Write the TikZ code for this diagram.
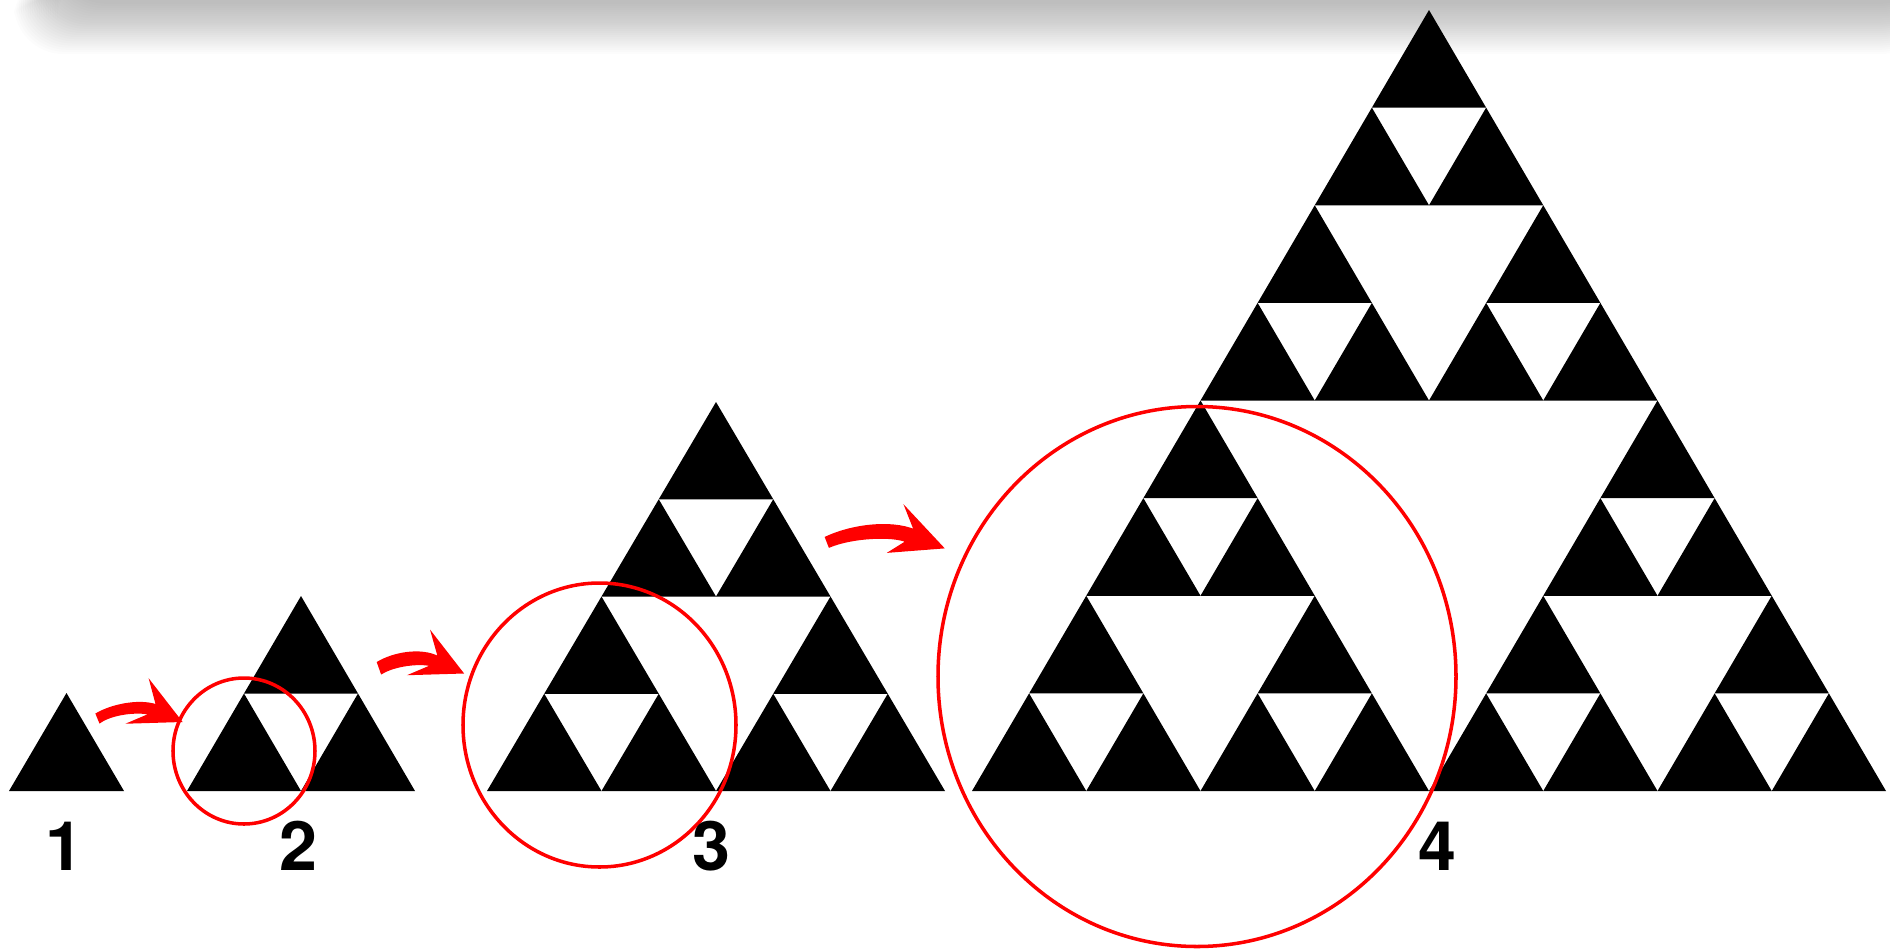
\documentclass[tikz,border=0pt]{standalone}
\usepackage{fontspec}
\setmainfont{Liberation Sans}
\newfontfamily\lblfont{TeX Gyre Heros}
\newcommand\SierpTri[5]{% level, x left, y base, width, height (pixel units, y down)
  \ifnum#1<2
    \fill[black] ({#2},{#3}) -- ({(#2)+(#4)},{#3}) -- ({(#2)+(#4)/2},{(#3)-(#5)}) -- cycle;
  \else
    \SierpTri{\numexpr#1-1\relax}{#2}{#3}{(#4)/2}{(#5)/2}%
    \SierpTri{\numexpr#1-1\relax}{(#2)+(#4)/2}{#3}{(#4)/2}{(#5)/2}%
    \SierpTri{\numexpr#1-1\relax}{(#2)+(#4)/4}{(#3)-(#5)/2}{(#4)/2}{(#5)/2}%
  \fi}
\tikzset{
  ring/.style={draw=red, line width=1pt},
  bentarrow/.style={fill=red, draw=red, line width=0.6pt, line join=miter},
  lbl/.style={font=\lblfont\bfseries\fontsize{19.4pt}{20pt}\selectfont, anchor=base, inner sep=0pt}
}
\begin{document}
\begin{tikzpicture}[x=0.01cm, y=-0.01cm]
\useasboundingbox (0,0) rectangle (1890,951);
\clip (0,0) rectangle (1890,951);
% top shadow
\foreach \i in {0,...,24}{
  \fill[black, opacity=0.013, rounded corners=14] ({14+1.8*\i},-30) rectangle (1930,{54-2.1*\i});
}
% Sierpinski stages
\SierpTri{1}{9}{791}{115}{98}
\SierpTri{2}{187}{791}{228}{195}
\SierpTri{3}{487}{791}{458}{389}
\SierpTri{4}{972}{791}{914}{781}
% circles
\draw[ring] (244,751) ellipse [x radius=71, y radius=73];
\draw[ring] (599.5,725) ellipse [x radius=136.5, y radius=142];
\draw[ring] (1197,676.5) ellipse [x radius=259, y radius=270];
% arrows (filled bent block arrows)
\fill[bentarrow] (96.7,714) .. controls (110,706) and (138,699) .. (157,705.5)
  -- (151,683) -- (180.5,721) -- (131,722.5) -- (151,714)
  .. controls (138,710.5) and (112,713.5) .. (100,722) -- cycle;
\fill[bentarrow] (378,662.5) .. controls (392,654) and (420,647.5) .. (439,657.5)
  -- (432.5,634.5) -- (462,672.5) -- (412.5,674) -- (432.5,665.5)
  .. controls (420,662) and (395,665) .. (381.7,673) -- cycle;
\fill[bentarrow] (826,537.5) .. controls (850,526) and (890,520) .. (915,530.5)
  -- (906.5,509) -- (942.5,547.5) -- (891,551.5) -- (907,541.5)
  .. controls (893,535) and (852,537) .. (829.5,546.5) -- cycle;
% labels
\node[lbl] (l1) at (64,870) {1};
\node[lbl] (l2) at (298,870) {2};
\node[lbl] (l3) at (711,870) {3};
\node[lbl] (l4) at (1437,870) {4};
\end{tikzpicture}
\end{document}
